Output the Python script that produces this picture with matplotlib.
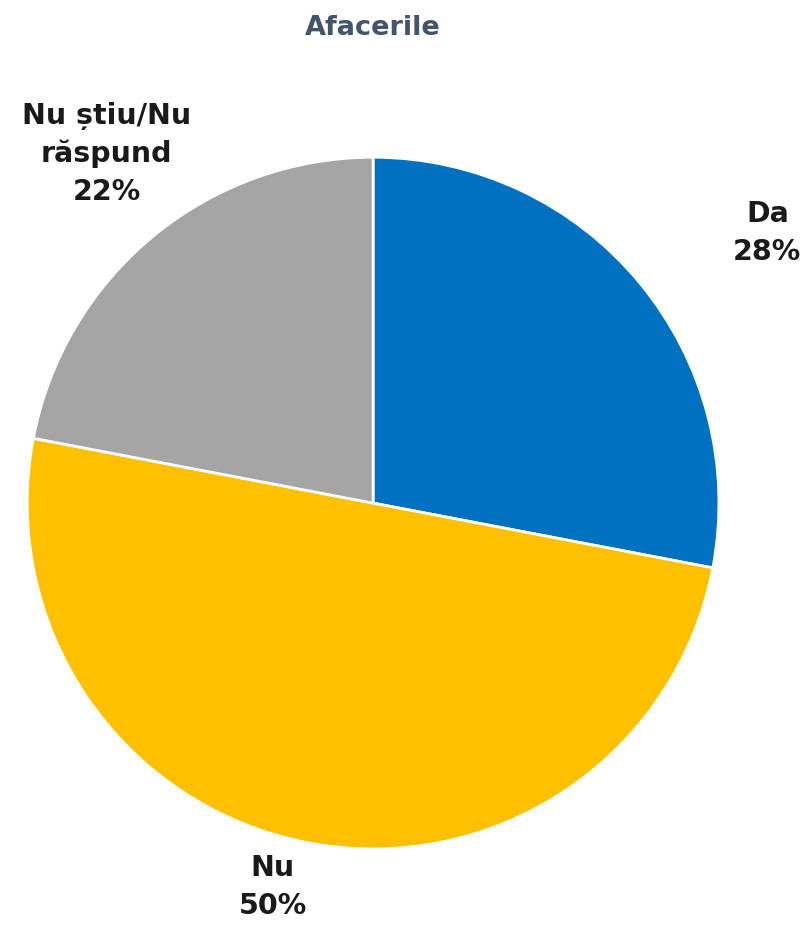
import matplotlib.pyplot as plt

labels = ['Da', 'Nu', 'Nu știu/Nu\nrăspund']
values = [28, 50, 22]
colors = ['#0070C0', '#FFC000', '#A5A5A5']
# label offsets in radius units
label_pos = [(1.14, 0.78), (-0.29, -1.11), (-0.77, 1.01)]

fig = plt.figure(figsize=(8.02, 9.26), dpi=100)
ax = fig.add_axes([0.0337, 0.0832, 0.863, 0.747])

wedges, texts = ax.pie(values, colors=colors, startangle=90, counterclock=False,
                       wedgeprops=dict(edgecolor='white', linewidth=2))
ax.set_xlim(-1, 1)
ax.set_ylim(-1, 1)
ax.set_aspect('equal')

for lab, v, (x, y) in zip(labels, values, label_pos):
    ax.text(x, y, '%s\n%d%%' % (lab, v), ha='center', va='center',
            fontsize=20.5, fontweight='bold', color='#1a1a1a',
            linespacing=1.45, clip_on=False)

fig.text(0.465, 0.97, 'Afacerile', ha='center', va='center',
         fontsize=19.5, fontweight='bold', color='#44546A')

fig.savefig('out.png', dpi=100)
